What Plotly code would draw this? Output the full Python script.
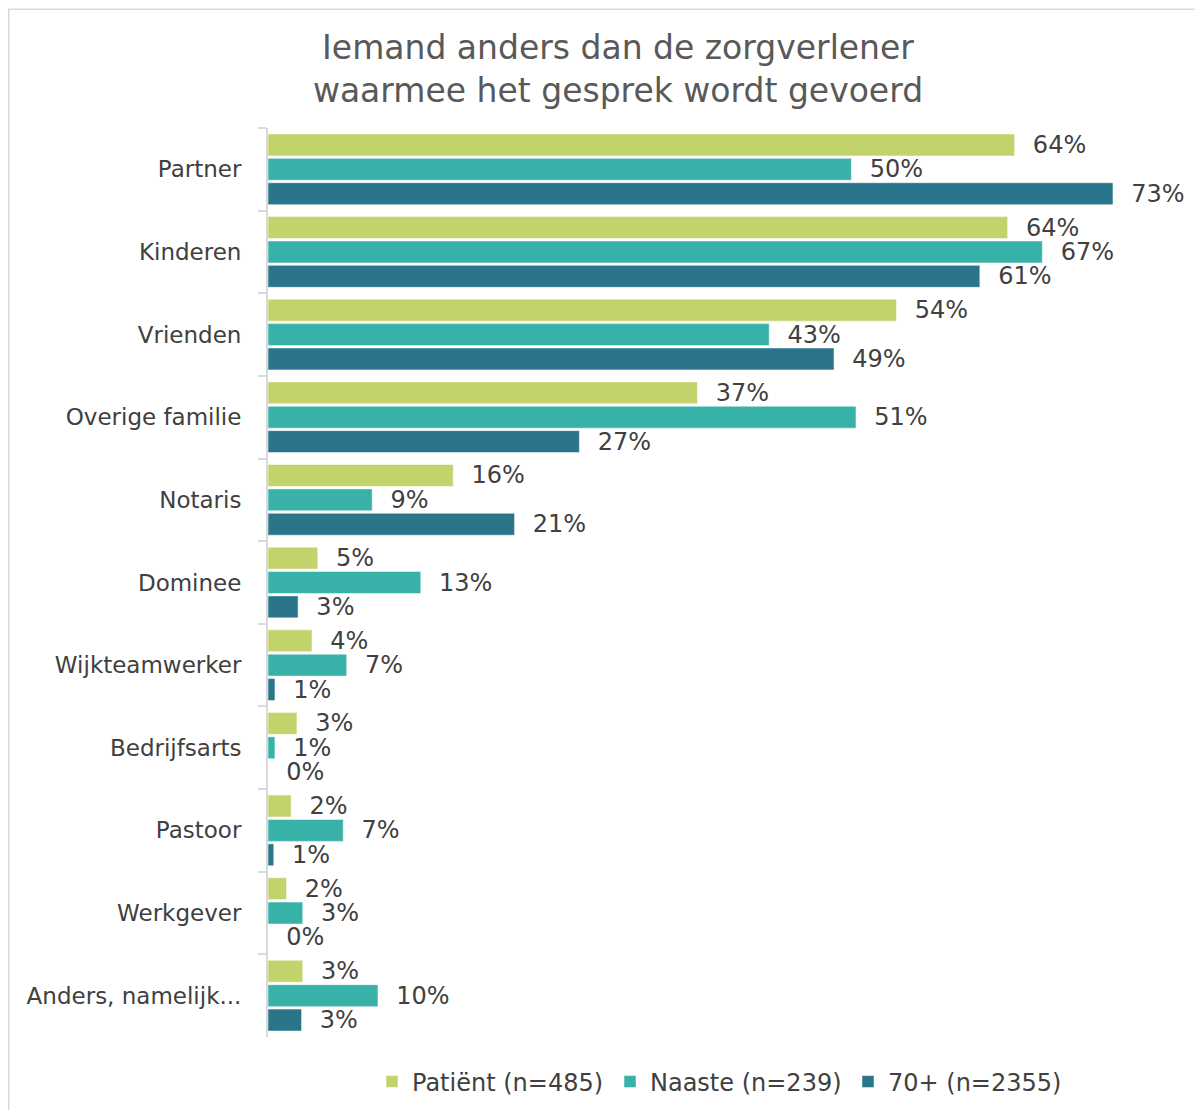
import plotly.graph_objects as go

categories = ["Partner", "Kinderen", "Vrienden", "Overige familie", "Notaris", "Dominee",
              "Wijkteamwerker", "Bedrijfsarts", "Pastoor", "Werkgever", "Anders, namelijk..."]
series_names = ["Patiënt (n=485)", "Naaste (n=239)", "70+ (n=2355)"]
patient_values = [64.5, 63.9, 54.3, 37.1, 16.0, 4.3, 3.8, 2.5, 2.0, 1.6, 3.0]
naaste_values = [50.4, 66.9, 43.3, 50.8, 9.0, 13.2, 6.8, 0.6, 6.5, 3.0, 9.5]
seventy_values = [73.0, 61.5, 48.9, 26.9, 21.3, 2.6, 0.6, 0.0, 0.5, 0.0, 2.9]
patient_labels = ["64%", "64%", "54%", "37%", "16%", "5%", "4%", "3%", "2%", "2%", "3%"]
naaste_labels = ["50%", "67%", "43%", "51%", "9%", "13%", "7%", "1%", "7%", "3%", "10%"]
seventy_labels = ["73%", "61%", "49%", "27%", "21%", "3%", "1%", "0%", "1%", "0%", "3%"]
colors = ["#C3D36B", "#38B2A8", "#2A7589"]

FONT = "DejaVu Sans"
TXT = "#404040"
FS = 24

fig = go.Figure()
for name, vals, labs, col in zip(series_names,
                                 [patient_values, naaste_values, seventy_values],
                                 [patient_labels, naaste_labels, seventy_labels],
                                 colors):
    fig.add_trace(go.Bar(
        y=categories, x=vals, name=name, orientation="h",
        marker=dict(color=col, line=dict(color="white", width=0.5)),
        text=labs, texttemplate="  %{text}", textposition="outside",
        constraintext="none",
        textfont=dict(family=FONT, size=FS, color=TXT),
        cliponaxis=False, hoverinfo="skip",
    ))

# page is offset by 8px body margin, so figure coords = reference coords - 8
W, H = 1195, 1102
L, T = 260, 120
R = 15
B = H - 1029
pw = W - L - R
ph = H - T - B
xmax = pw / 11.575

fig.update_layout(
    width=W, height=H,
    margin=dict(l=L, r=R, t=T, b=B, autoexpand=False),
    paper_bgcolor="white", plot_bgcolor="white",
    barmode="group", bargap=0.115, bargroupgap=0.1,
    title=dict(text="Iemand anders dan de zorgverlener<br>waarmee het gesprek wordt gevoerd",
               x=610 / W, xanchor="center", y=1 - 51 / H, yanchor="middle",
               font=dict(family=FONT, size=33, color="#595959")),
    font=dict(family=FONT, size=FS, color=TXT),
    xaxis=dict(range=[0, xmax], visible=False, showgrid=False, zeroline=False),
    yaxis=dict(autorange="reversed", showline=True, linecolor="#D9D9D9", linewidth=2,
               ticks="outside", ticklen=8, tickcolor="#D9D9D9", tickwidth=2,
               tickson="boundaries", showgrid=False,
               tickfont=dict(family=FONT, size=23, color=TXT), ticklabelstandoff=20),
    legend=dict(orientation="h", x=(364 - L) / pw, xanchor="left", y=-(1074 - 1029) / ph,
                yanchor="middle", font=dict(family=FONT, size=FS, color=TXT),
                itemwidth=30, traceorder="normal", entrywidth=193, entrywidthmode="pixels"),
    showlegend=True,
)

# chart border (left and top edges visible)
fig.add_shape(type="rect", xref="paper", yref="paper",
              x0=(0.75 - L) / pw, x1=(W + 10 - L) / pw,
              y0=-(H + 10 - 1029) / ph, y1=1 + (T - 1.25) / ph,
              line=dict(color="#D9D9D9", width=1.5), fillcolor="rgba(0,0,0,0)", layer="below")

fig.write_html("out.html")
